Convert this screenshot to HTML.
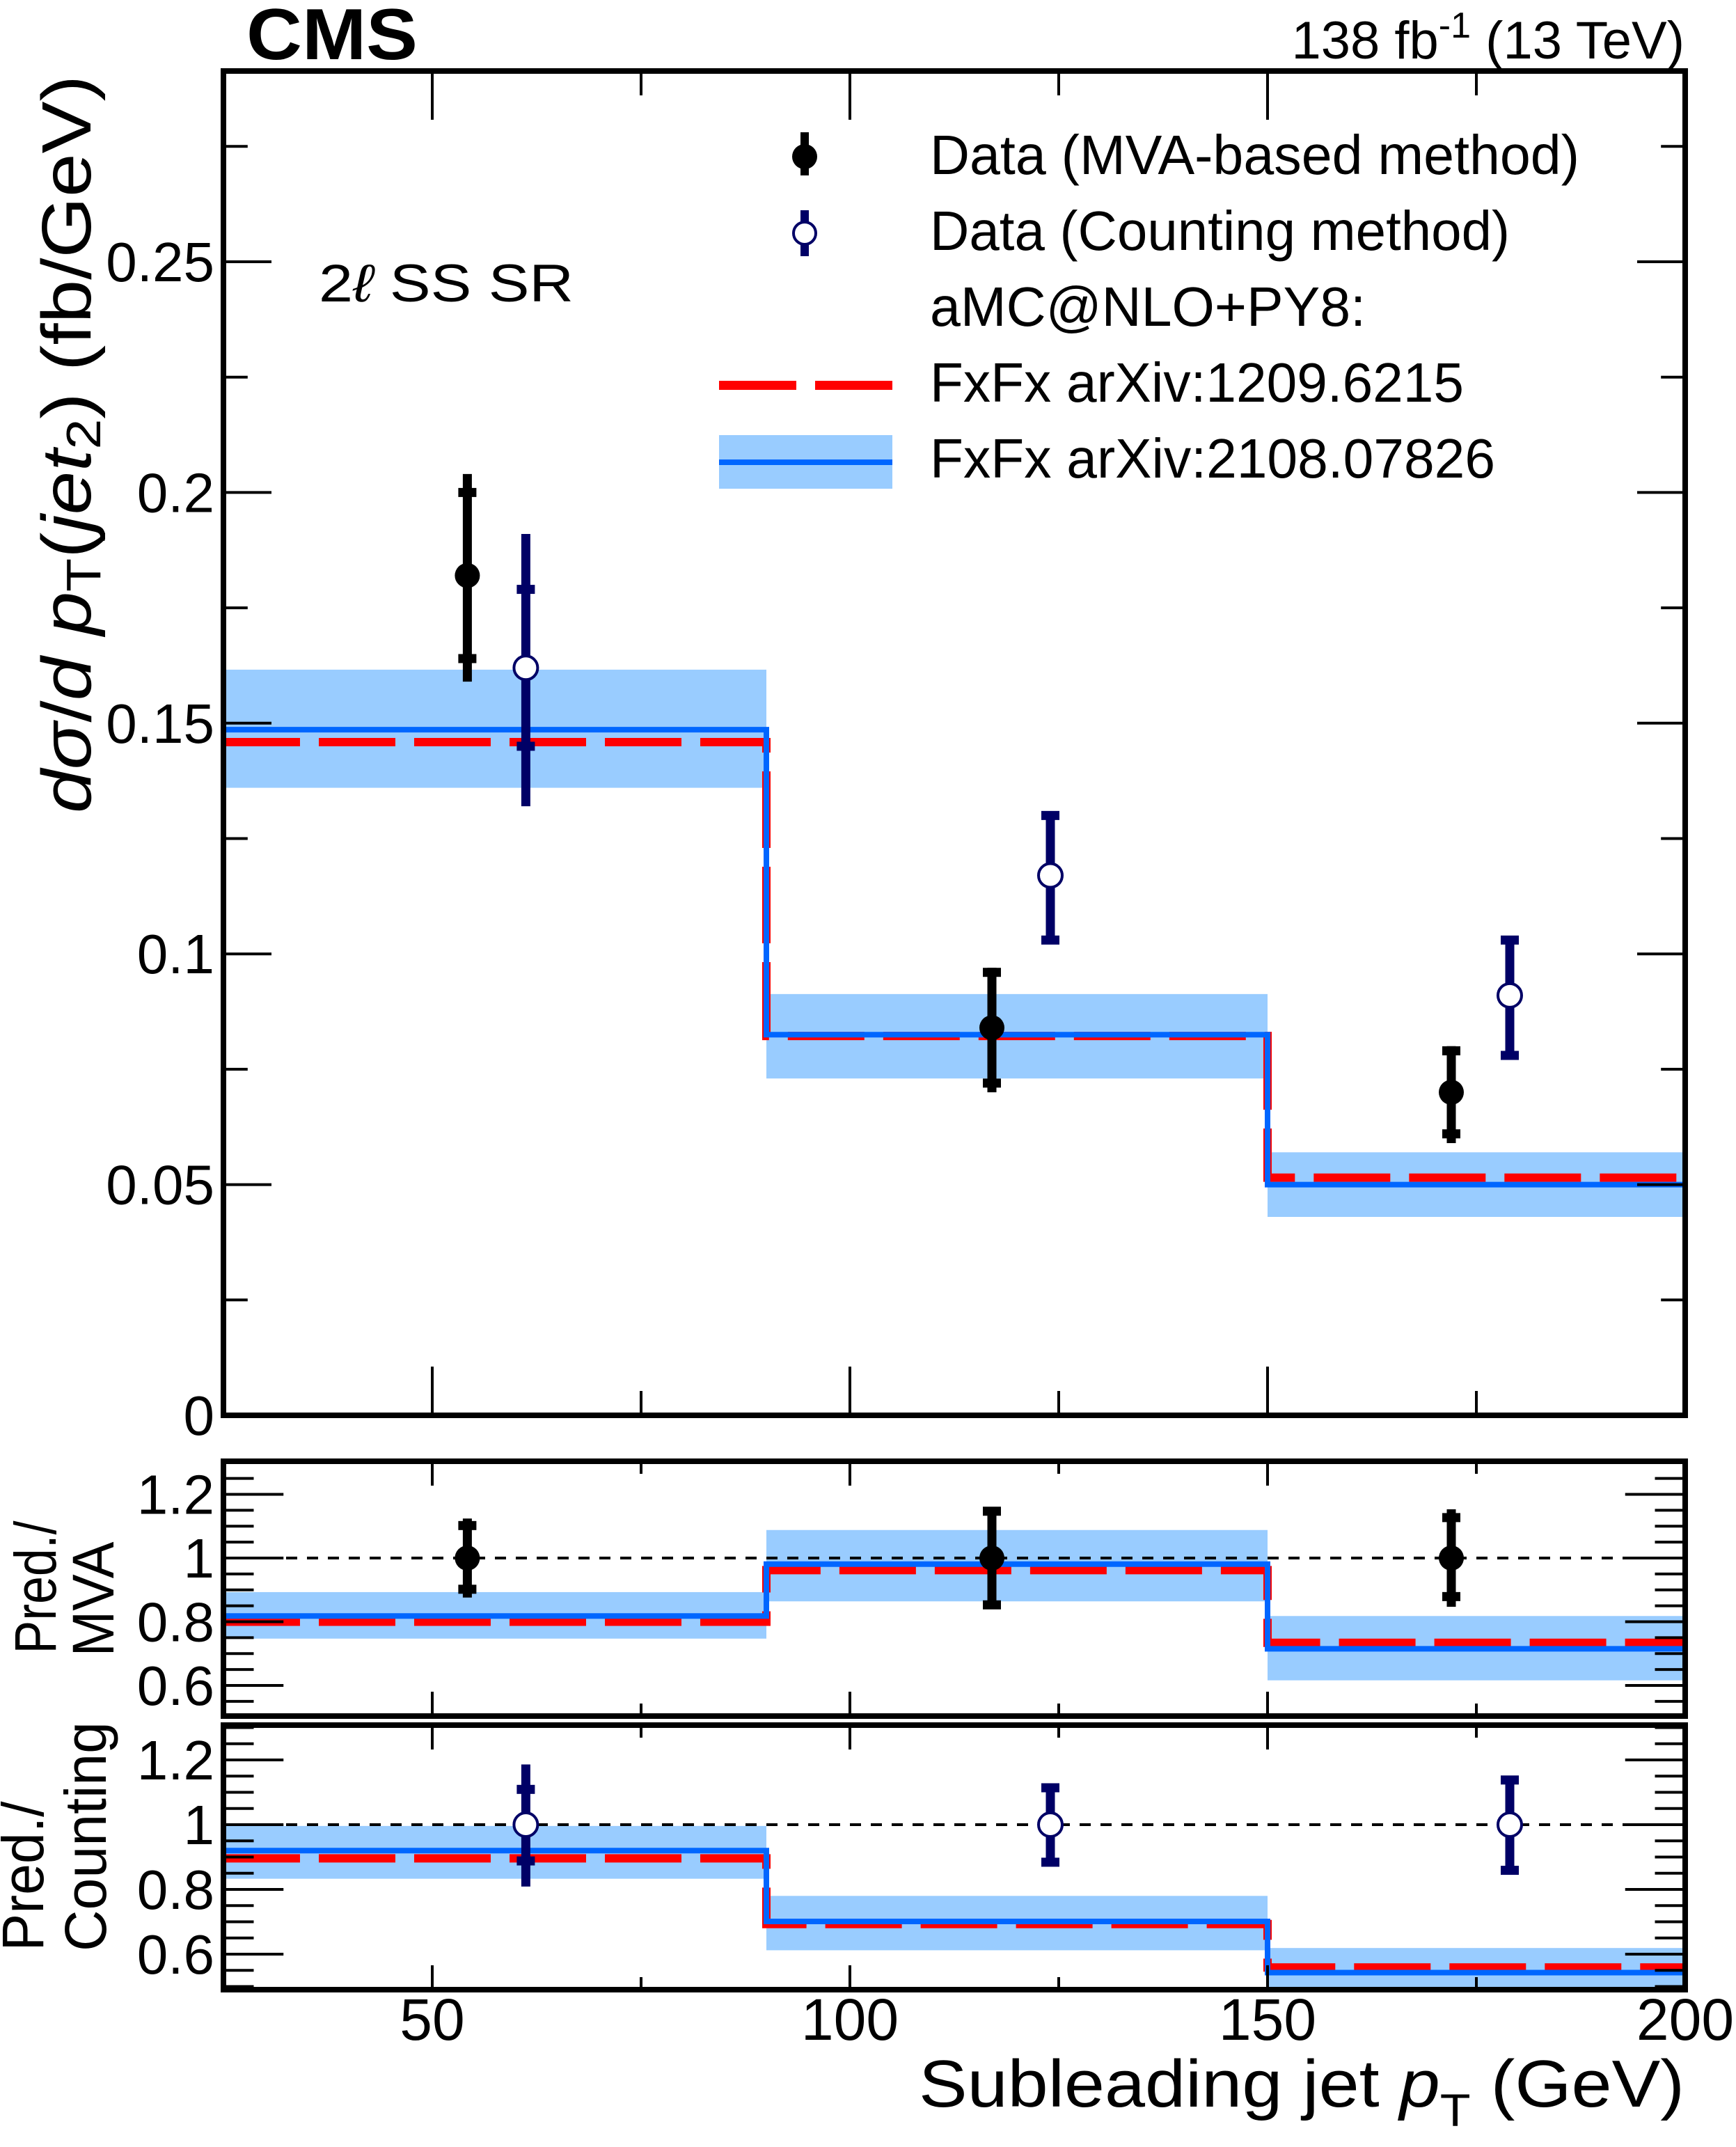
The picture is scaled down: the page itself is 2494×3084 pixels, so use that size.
<!DOCTYPE html>
<html><head><meta charset="utf-8"><style>
html,body{margin:0;padding:0;background:#fff;}
svg{display:block;font-family:"Liberation Sans",sans-serif;}
</style></head><body>
<svg id="chart" width="2494" height="3084" viewBox="0 0 2494 3084" xmlns="http://www.w3.org/2000/svg">
<g id="bands"></g><g id="lines"></g><g id="points"></g><g id="axes"></g><g id="labels"></g>
</svg>
<script>
// ---- data ----
const binEdges = [25, 90, 150, 200];
const predRed = [0.1459, 0.0822, 0.0515];
const predBlue = [0.1486, 0.0825, 0.0500];
const bandLo = [0.1360, 0.0730, 0.0430];
const bandHi = [0.1616, 0.0913, 0.0570];
const mvaX = [54.2, 117, 172];
const mvaY = [0.182, 0.084, 0.070];
const mvaStatLo = [0.164, 0.072, 0.061];
const mvaStatHi = [0.200, 0.096, 0.079];
const mvaTotLo = [0.159, 0.070, 0.059];
const mvaTotHi = [0.204, 0.097, 0.080];
const cntX = [61.2, 124, 179];
const cntY = [0.162, 0.117, 0.091];
const cntStatLo = [0.145, 0.103, 0.078];
const cntStatHi = [0.179, 0.130, 0.103];
const cntTotLo = [0.132, 0.103, 0.078];
const cntTotHi = [0.191, 0.130, 0.103];
// ratio MVA panel
const r1Red = [0.800, 0.962, 0.734];
const r1Blue = [0.818, 0.981, 0.715];
const r1BandLo = [0.747, 0.864, 0.616];
const r1BandHi = [0.893, 1.088, 0.818];
const r1StatLo = [0.902, 0.853, 0.879];
const r1StatHi = [1.102, 1.147, 1.127];
const r1TotLo = [0.876, 0.853, 0.847];
const r1TotHi = [1.124, 1.147, 1.153];
// ratio Counting panel
const r2Red = [0.896, 0.693, 0.559];
const r2Blue = [0.920, 0.701, 0.543];
const r2BandLo = [0.833, 0.612, 0.488];
const r2BandHi = [0.996, 0.780, 0.619];
const r2StatLo = [0.888, 0.884, 0.859];
const r2StatHi = [1.109, 1.114, 1.138];
const r2TotLo = [0.809, 0.884, 0.859];
const r2TotHi = [1.186, 1.114, 1.138];
const xTicks = [50, 100, 150, 200];
const yMainTicks = [0, 0.05, 0.1, 0.15, 0.2, 0.25];
const yMainLabels = ["0", "0.05", "0.1", "0.15", "0.2", "0.25"];
const yRatioTicks = [0.6, 0.8, 1, 1.2];
const yRatioLabels = ["0.6", "0.8", "1", "1.2"];

// ---- layout ----
const L = 321, R = 2421;
const NS = "http://www.w3.org/2000/svg";
const X = v => L + (v - 25) * (R - L) / 175;
const panels = {
  main: {top: 102, bot: 2033, y: v => 2033 - v * 6628},
  r1: {top: 2099, bot: 2465, y: v => 2238 - (v - 1) * 457.5},
  r2: {top: 2478, bot: 2858, y: v => 2621 - (v - 1) * 465}
};
function mk(tag, attrs, parent) {
  const e = document.createElementNS(NS, tag);
  for (const k in attrs) e.setAttribute(k, attrs[k]);
  document.getElementById(parent).appendChild(e);
  return e;
}
function drawModel(p, lo, hi, red, blue, pfx) {
  const Y = p.y;
  const clip = v => Math.max(p.top + 4, Math.min(p.bot - 4, v));
  for (let i = 0; i < 3; i++) {
    const x0 = X(binEdges[i]), x1 = X(binEdges[i + 1]);
    const b = mk('rect', {x: x0, y: clip(Y(bandHiOf(hi, i))), width: x1 - x0, height: clip(Y(lo[i])) - clip(Y(hi[i])), fill: '#99ccff'}, 'bands');
    
    
  }
  function step(vals) {
    let d = '';
    for (let i = 0; i < 3; i++) {
      const x0 = X(binEdges[i]), x1 = X(binEdges[i + 1]);
      d += (i === 0 ? 'M' : 'L') + x0 + ',' + Y(vals[i]) + ' L' + x1 + ',' + Y(vals[i]) + ' ';
    }
    return d;
  }
  const r = mk('path', {d: step(red), fill: 'none', stroke: '#ff0000', 'stroke-width': 12, 'stroke-dasharray': '110 27'}, 'lines');
  
  
  const bl = mk('path', {d: step(blue), fill: 'none', stroke: '#0066ff', 'stroke-width': 8}, 'lines');
  
  
}
function bandHiOf(hi, i) { return hi[i]; }
function drawPoint(p, x, y, sLo, sHi, tLo, tHi, open, name) {
  const Y = p.y, cx = X(x), col = open ? '#000066' : '#000000';
  const g = mk('g', {}, 'points');
  
  
  const add = (t, a) => { const e = document.createElementNS(NS, t); for (const k in a) e.setAttribute(k, a[k]); g.appendChild(e); };
  add('line', {x1: cx, x2: cx, y1: Y(tHi), y2: Y(tLo), stroke: col, 'stroke-width': 13});
  add('rect', {x: cx - 13, y: Y(sHi) - 6.5, width: 26, height: 13, fill: col});
  add('rect', {x: cx - 13, y: Y(sLo) - 6.5, width: 26, height: 13, fill: col});
  if (open) add('circle', {cx: cx, cy: Y(y), r: 17, fill: '#fff', stroke: col, 'stroke-width': 4});
  else add('circle', {cx: cx, cy: Y(y), r: 18, fill: col});
}
// main panel
drawModel(panels.main, bandLo, bandHi, predRed, predBlue, 'main');
for (let i = 0; i < 3; i++) {
  drawPoint(panels.main, mvaX[i], mvaY[i], mvaStatLo[i], mvaStatHi[i], mvaTotLo[i], mvaTotHi[i], false, 'mva-data-point-' + (i + 1));
  drawPoint(panels.main, cntX[i], cntY[i], cntStatLo[i], cntStatHi[i], cntTotLo[i], cntTotHi[i], true, 'counting-data-point-' + (i + 1));
}
// ratio panels
drawModel(panels.r1, r1BandLo, r1BandHi, r1Red, r1Blue, 'ratio-mva');
drawModel(panels.r2, r2BandLo, r2BandHi, r2Red, r2Blue, 'ratio-counting');
for (const [p, nm] of [[panels.r1, 'ratio-mva'], [panels.r2, 'ratio-counting']]) {
  const dl = mk('line', {x1: L, x2: R, y1: p.y(1), y2: p.y(1), stroke: '#000', 'stroke-width': 4, 'stroke-dasharray': '16 14'}, 'lines');
  
  
}
for (let i = 0; i < 3; i++) {
  drawPoint(panels.r1, mvaX[i], 1, r1StatLo[i], r1StatHi[i], r1TotLo[i], r1TotHi[i], false, 'ratio-mva-point-' + (i + 1));
  drawPoint(panels.r2, cntX[i], 1, r2StatLo[i], r2StatHi[i], r2TotLo[i], r2TotHi[i], true, 'ratio-counting-point-' + (i + 1));
}
// axes
function frame(p, nm, yMin, yMax, minorStep, majorTicks, labels, fs) {
  const g = 'axes';
  for (let v = 25; v <= 200.01; v += 25) {
    const major = v % 50 === 0;
    const len = major ? (nm === 'main' ? 70 : 35) : (nm === 'main' ? 35 : 18);
    mk('line', {x1: X(v), x2: X(v), y1: p.bot, y2: p.bot - len, stroke: '#000', 'stroke-width': 4}, g);
    mk('line', {x1: X(v), x2: X(v), y1: p.top, y2: p.top + len, stroke: '#000', 'stroke-width': 4}, g);
  }
  const n = Math.round((yMax - yMin) / minorStep);
  for (let k = 0; k <= n; k++) {
    const v = yMin + k * minorStep;
    const yy = p.y(v);
    if (yy < p.top || yy > p.bot) continue;
    const isMaj = majorTicks.some(t => Math.abs(t - v) < 1e-6);
    const len = isMaj ? 115 : 58;
    const len2 = nm === 'main' ? len * 0.6 : len * 0.75;
    mk('line', {x1: L, x2: L + len2, y1: yy, y2: yy, stroke: '#000', 'stroke-width': 4}, g);
    mk('line', {x1: R, x2: R - len2, y1: yy, y2: yy, stroke: '#000', 'stroke-width': 4}, g);
  }
  const fr = mk('rect', {x: L, y: p.top, width: R - L, height: p.bot - p.top, fill: 'none', stroke: '#000', 'stroke-width': 8}, g);
  
  
  majorTicks.forEach((t, i) => {
    const tx = mk('text', {x: 308, y: p.y(t) + 28, 'text-anchor': 'end', 'font-size': fs}, 'labels');
    tx.textContent = labels[i];
    
    
  });
}
frame(panels.main, 'main', 0, 0.29, 0.025, yMainTicks, yMainLabels, 80);
frame(panels.r1, 'ratio-mva', 0.5, 1.3, 0.05, yRatioTicks, yRatioLabels, 80);
frame(panels.r2, 'ratio-counting', 0.5, 1.3, 0.05, yRatioTicks, yRatioLabels, 80);
xTicks.forEach(t => {
  const tx = mk('text', {x: X(t), y: 2930, 'text-anchor': 'middle', 'font-size': 84}, 'labels');
  tx.textContent = String(t);
  
  
});
</script>
<script>
(function(){
const NS = "http://www.w3.org/2000/svg";
const svg = document.getElementById('labels');
svg.insertAdjacentHTML('beforeend', `
<text x="354" y="85" font-size="104" font-weight="bold" textLength="246" lengthAdjust="spacingAndGlyphs">CMS</text>
<text x="2420" y="84" font-size="76" text-anchor="end">138 fb<tspan dy="-30" font-size="52">-1</tspan><tspan dy="30"> (13 TeV)</tspan></text>
<text x="458" y="433" font-size="76" textLength="366" lengthAdjust="spacingAndGlyphs">2<tspan font-style="italic">ℓ</tspan> SS SR</text>
<text transform="translate(130,638) rotate(-90)" text-anchor="middle" font-size="100" textLength="1060" lengthAdjust="spacingAndGlyphs"><tspan font-style="italic">dσ</tspan>/<tspan font-style="italic">d p</tspan><tspan font-size="70" dy="14">T</tspan><tspan dy="-14">(</tspan><tspan font-style="italic">jet</tspan><tspan font-size="70" dy="14">2</tspan><tspan dy="-14">)  (fb/GeV)</tspan></text>
<text transform="translate(80,2280) rotate(-90)" text-anchor="middle" font-size="84" textLength="191" lengthAdjust="spacingAndGlyphs">Pred./</text>
<text transform="translate(163,2297) rotate(-90)" text-anchor="middle" font-size="84" textLength="165" lengthAdjust="spacingAndGlyphs">MVA</text>
<text transform="translate(62,2695) rotate(-90)" text-anchor="middle" font-size="84" textLength="215" lengthAdjust="spacingAndGlyphs">Pred./</text>
<text transform="translate(152,2638) rotate(-90)" text-anchor="middle" font-size="84" textLength="330" lengthAdjust="spacingAndGlyphs">Counting</text>
<text x="2420" y="3026" text-anchor="end" font-size="96" textLength="1100" lengthAdjust="spacingAndGlyphs">Subleading jet <tspan font-style="italic">p</tspan><tspan font-size="66" dy="28">T</tspan><tspan dy="-28"> (GeV)</tspan></text>
<g>
 <g>
  <line x1="1156" x2="1156" y1="190" y2="252" stroke="#000" stroke-width="12"/>
  <circle cx="1156" cy="225" r="18" fill="#000"/>
  <text x="1336" y="250" font-size="80" textLength="933" lengthAdjust="spacingAndGlyphs">Data (MVA-based method)</text>
 </g>
 <g>
  <line x1="1156" x2="1156" y1="302" y2="368" stroke="#000066" stroke-width="12"/>
  <circle cx="1156" cy="335" r="16" fill="#fff" stroke="#000066" stroke-width="4"/>
  <text x="1336" y="359" font-size="80" textLength="833" lengthAdjust="spacingAndGlyphs">Data (Counting method)</text>
 </g>
 <text x="1336" y="468" font-size="80" textLength="626" lengthAdjust="spacingAndGlyphs">aMC@NLO+PY8:</text>
 <g>
  <rect x="1033" y="547" width="111" height="13" fill="#ff0000"/>
  <rect x="1171" y="547" width="111" height="13" fill="#ff0000"/>
  <text x="1336" y="577" font-size="80" textLength="767" lengthAdjust="spacingAndGlyphs">FxFx arXiv:1209.6215</text>
 </g>
 <g>
  <rect x="1033" y="625" width="249" height="77" fill="#99ccff"/>
  <rect x="1033" y="660" width="249" height="8" fill="#0066ff"/>
  <text x="1336" y="686" font-size="80" textLength="812" lengthAdjust="spacingAndGlyphs">FxFx arXiv:2108.07826</text>
 </g>
</g>`);
})();
</script>
</body></html>
